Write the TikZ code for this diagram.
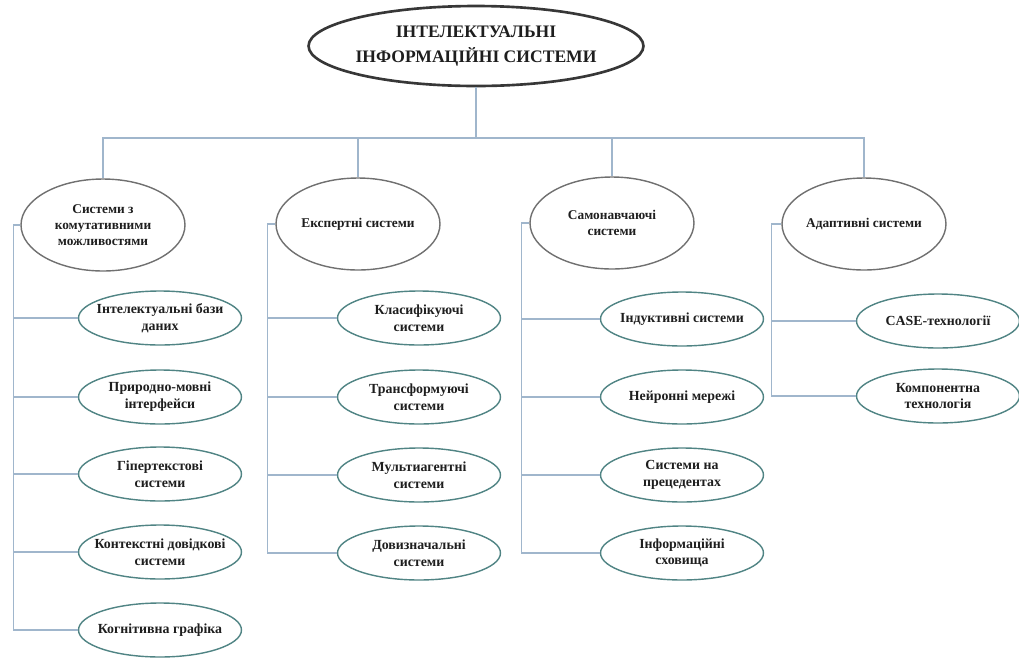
\documentclass[tikz,border=0pt]{standalone}
\usepackage{fontspec}
\setmainfont{Liberation Serif}
\usepackage{tikz}
\usetikzlibrary{shapes.geometric, positioning}
\definecolor{linkblue}{RGB}{160, 182, 204}
\definecolor{leafteal}{RGB}{80, 132, 132}
\definecolor{catgray}{RGB}{112, 112, 112}
\definecolor{rootgray}{RGB}{55, 55, 55}
\definecolor{inkdark}{RGB}{30, 30, 30}

\begin{document}
\begin{tikzpicture}[x=0.02cm, y=-0.02cm,
  root/.style={ellipse, draw=rootgray, line width=1.5pt, fill=white, text=inkdark, inner xsep=-30pt, inner ysep=0pt,
    minimum width=6.7cm, minimum height=1.6cm, align=center, font=\fontsize{10}{14}\selectfont\bfseries},
  cat/.style={ellipse, draw=catgray, line width=0.8pt, fill=white, text=inkdark, inner xsep=-30pt, inner ysep=0pt,
    minimum width=3.28cm, minimum height=1.84cm, align=center, font=\fontsize{7.6}{9}\selectfont\bfseries},
  leaf/.style={ellipse, draw=leafteal, line width=0.8pt, fill=white, text=inkdark, inner xsep=-30pt, inner ysep=0pt,
    minimum width=3.26cm, minimum height=1.08cm, align=center, font=\fontsize{7.9}{9.5}\selectfont\bfseries},
  link/.style={draw=linkblue, line width=0.9pt}]
  \useasboundingbox (0,0) rectangle (1019,657);

  % Root
  \node[root] (root) at (476,46) {ІНТЕЛЕКТУАЛЬНІ\\ІНФОРМАЦІЙНІ СИСТЕМИ};
  \coordinate (bus) at (0,138);

  % Four classes
  \node[cat] (sys1) at (103,225) {Системи з\\комутативними\\можливостями};
  \node[cat] (sys2) at (358,224) {Експертні системи};
  \node[cat] (sys3) at (612,223) {Самонавчаючі\\системи};
  \node[cat] (sys4) at (864,224) {Адаптивні системи};

  \draw[link] (root.south) -- (root.south |- bus) -| (sys1.north);
  \draw[link] (root.south) -- (root.south |- bus) -| (sys2.north);
  \draw[link] (root.south) -- (root.south |- bus) -| (sys3.north);
  \draw[link] (root.south) -- (root.south |- bus) -| (sys4.north);

  % Column 1
  \node[leaf] (kom1) at (160,318) {Інтелектуальні бази\\даних};
  \node[leaf] (kom2) at (160,397) {Природно-мовні\\інтерфейси};
  \node[leaf] (kom3) at (160,474) {Гіпертекстові\\системи};
  \node[leaf] (kom4) at (160,552) {Контекстні довідкові\\системи};
  \node[leaf] (kom5) at (160,630) {Когнітивна графіка};

  \draw[link] (sys1.west) -- ++(-7,0) |- (kom1.west);
  \draw[link] (sys1.west) -- ++(-7,0) |- (kom2.west);
  \draw[link] (sys1.west) -- ++(-7,0) |- (kom3.west);
  \draw[link] (sys1.west) -- ++(-7,0) |- (kom4.west);
  \draw[link] (sys1.west) -- ++(-7,0) |- (kom5.west);

  % Column 2
  \node[leaf] (exp1) at (419,318) {Класифікуючі\\системи};
  \node[leaf] (exp2) at (419,397) {Трансформуючі\\системи};
  \node[leaf] (exp3) at (419,475) {Мультиагентні\\системи};
  \node[leaf] (exp4) at (419,553) {Довизначальні\\системи};

  \draw[link] (sys2.west) -- ++(-8,0) |- (exp1.west);
  \draw[link] (sys2.west) -- ++(-8,0) |- (exp2.west);
  \draw[link] (sys2.west) -- ++(-8,0) |- (exp3.west);
  \draw[link] (sys2.west) -- ++(-8,0) |- (exp4.west);

  % Column 3
  \node[leaf] (sam1) at (682,319) {Індуктивні системи};
  \node[leaf] (sam2) at (682,397) {Нейронні мережі};
  \node[leaf] (sam3) at (682,475) {Системи на\\прецедентах};
  \node[leaf] (sam4) at (682,553) {Інформаційні\\сховища};

  \draw[link] (sys3.west) -- ++(-8,0) |- (sam1.west);
  \draw[link] (sys3.west) -- ++(-8,0) |- (sam2.west);
  \draw[link] (sys3.west) -- ++(-8,0) |- (sam3.west);
  \draw[link] (sys3.west) -- ++(-8,0) |- (sam4.west);

  % Column 4
  \node[leaf] (ada1) at (938,321) {CASE-технології};
  \node[leaf] (ada2) at (938,396) {Компонентна\\технологія};

  \draw[link] (sys4.west) -- ++(-10,0) |- (ada1.west);
  \draw[link] (sys4.west) -- ++(-10,0) |- (ada2.west);
\end{tikzpicture}
\end{document}
